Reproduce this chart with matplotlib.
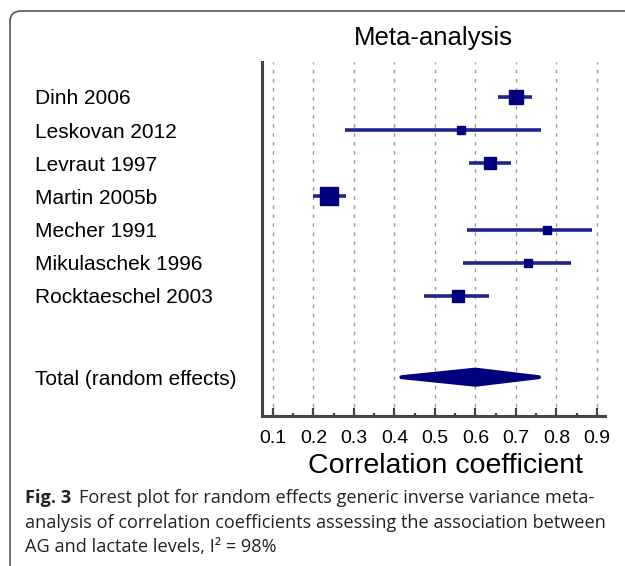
import matplotlib
matplotlib.use("Agg")
import matplotlib.pyplot as plt
from matplotlib.patches import FancyBboxPatch, Polygon
import numpy as np

# study data
studies = ["Dinh 2006", "Leskovan 2012", "Levraut 1997", "Martin 2005b",
           "Mecher 1991", "Mikulaschek 1996", "Rocktaeschel 2003"]
estimate = [0.700, 0.564, 0.637, 0.238, 0.777, 0.730, 0.556]
ci_low = [0.656, 0.278, 0.584, 0.200, 0.578, 0.570, 0.474]
ci_high = [0.740, 0.763, 0.688, 0.280, 0.888, 0.835, 0.633]
weights = [19.6, 6.4, 14.4, 32.4, 6.4, 6.4, 14.4]  # %

total_label = "Total (random effects)"
total_est = 0.600
total_low = 0.417
total_high = 0.757

xticks = [0.1, 0.2, 0.3, 0.4, 0.5, 0.6, 0.7, 0.8, 0.9]

navy = "#00007f"
line_col = "#22228c"
FONT = "Liberation Sans"
CAP_FONT = "Open Sans"

fig = plt.figure(figsize=(6.25, 5.66), dpi=100)
W, H = 625, 566

# rounded frame around figure + caption (cut off on right / bottom)
frame = FancyBboxPatch((10 / W, -0.05), 1.2, 1 - 11 / H + 0.05,
                       boxstyle="round,pad=0,rounding_size=0.018",
                       transform=fig.transFigure, fill=False,
                       ec="#555555", lw=1.2, clip_on=False)
fig.patches.append(frame)

ax = fig.add_axes([262 / W, 1 - 416 / H, (605 - 262) / W, (416 - 62) / H])

ypos = np.arange(len(studies))
total_y = 8.45

for x in xticks:
    ax.axvline(x, color="#9a9a9a", lw=1.0, ls=(0, (2.5, 4)), zorder=0)

# confidence intervals
ax.hlines(ypos, ci_low, ci_high, color=line_col, lw=2.6, zorder=2)
# squares sized by weight (area ~ weight)
side_px = 3.16 * np.sqrt(np.array(weights))
for y, e, s in zip(ypos, estimate, side_px):
    ax.plot(e, y, marker="s", ms=s * 0.72, color=navy, mec=navy, zorder=3)

# pooled estimate diamond
half_h = 0.23
dia = Polygon([[total_low, total_y], [total_est, total_y - half_h],
               [total_high, total_y], [total_est, total_y + half_h]],
              closed=True, fc=navy, ec=navy, lw=2.8, joinstyle="round",
              zorder=3)
ax.add_patch(dia)

ax.set_xlim(0.073, 0.92)
ax.set_ylim(9.62, -1.05)

ax.spines["top"].set_visible(False)
ax.spines["right"].set_visible(False)
ax.spines["left"].set_color("#444444")
ax.spines["bottom"].set_color("#444444")
ax.spines["left"].set_linewidth(2.2)
ax.spines["bottom"].set_linewidth(2.2)

ax.set_xticks(xticks)
ax.set_xticklabels([f"{t:.1f}" for t in xticks], fontfamily=FONT, fontsize=14)
ax.set_xticks(np.arange(0.15, 0.9, 0.1), minor=True)
ax.tick_params(axis="x", which="major", direction="in", length=6, width=1.6,
               color="#444444", pad=10)
ax.tick_params(axis="x", which="minor", direction="in", length=2.5, width=1.6,
               color="#444444")

ax.set_yticks(list(ypos) + [total_y])
ax.set_yticklabels(studies + [total_label], fontfamily=FONT, fontsize=15)
ax.tick_params(axis="y", length=0, pad=0)
for lab in ax.get_yticklabels():
    lab.set_horizontalalignment("left")
    lab.set_x(-(262 - 35) / (605 - 262))

ax.set_xlabel("Correlation coefficient", fontfamily=FONT, fontsize=20.5,
              labelpad=3)
ax.xaxis.set_label_coords(0.536, -0.105)
ax.set_title("Meta-analysis", fontfamily=FONT, fontsize=18.5, pad=12)

# caption
cap_size = 13.1
cap_x = 25 / W
t1 = fig.text(cap_x, 1 - 503 / H, "Fig. 3", fontfamily=CAP_FONT,
              fontweight="bold", fontsize=cap_size, va="baseline",
              color="#222222")
fig.canvas.draw()
bb = t1.get_window_extent()
fig.text(bb.x1 / W + 8 / W, 1 - 503 / H,
         "Forest plot for random effects generic inverse variance meta-",
         fontfamily=CAP_FONT, fontsize=cap_size, va="baseline", color="#222222")
fig.text(cap_x, 1 - 528 / H,
         "analysis of correlation coefficients assessing the association between",
         fontfamily=CAP_FONT, fontsize=cap_size, va="baseline", color="#222222")
fig.text(cap_x, 1 - 552 / H, "AG and lactate levels, I\u00b2 = 98%",
         fontfamily=CAP_FONT, fontsize=cap_size, va="baseline", color="#222222")

fig.savefig("out.png", dpi=100)
